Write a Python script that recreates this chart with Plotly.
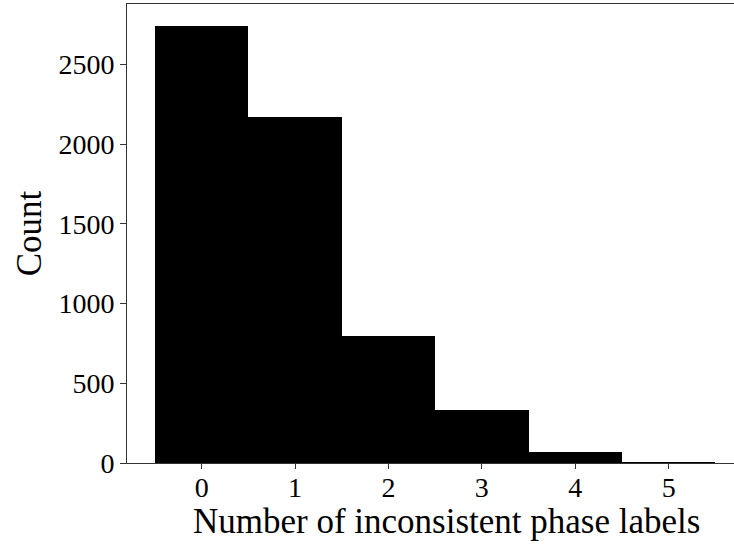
import plotly.graph_objects as go

categories = [0, 1, 2, 3, 4, 5]
counts = [2742, 2171, 796, 332, 70, 1]
y_ticks = [0, 500, 1000, 1500, 2000, 2500]
x_ticks = [0, 1, 2, 3, 4, 5]

family = "Liberation Serif, Times New Roman, serif"
tick_font = dict(family=family, size=28, color="black")
title_font = dict(family=family, size=35, color="black")

fig = go.Figure(go.Bar(
    x=categories, y=counts, width=1.0,
    marker=dict(color="black", line=dict(width=0)),
))
fig.update_layout(
    width=734, height=546,
    margin=dict(l=127, r=0, t=4, b=83),
    plot_bgcolor="white", paper_bgcolor="white",
    font=tick_font, bargap=0, showlegend=False,
)
fig.add_annotation(
    text="Number of inconsistent phase labels", font=title_font,
    xref="paper", x=0.527, yref="paper", y=0, yshift=-58,
    xanchor="center", yanchor="middle", showarrow=False,
)
fig.update_xaxes(
    range=[-0.8, 5.7], tickvals=x_ticks, ticktext=[str(v) for v in x_ticks],
    tickfont=tick_font, ticklabelstandoff=-6,
    showline=True, linecolor="#333333", linewidth=1, mirror=True,
    ticks="outside", ticklen=5, tickcolor="#333333", showgrid=False, zeroline=False,
)
fig.update_yaxes(
    range=[0, 2879], tickvals=y_ticks, ticktext=[str(v) for v in y_ticks],
    tickfont=tick_font,
    showline=True, linecolor="#333333", linewidth=1,
    ticks="outside", ticklen=6, tickcolor="#333333", showgrid=False, zeroline=False,
    title=dict(text="Count", font=title_font, standoff=6),
)
fig.write_html("out.html")
